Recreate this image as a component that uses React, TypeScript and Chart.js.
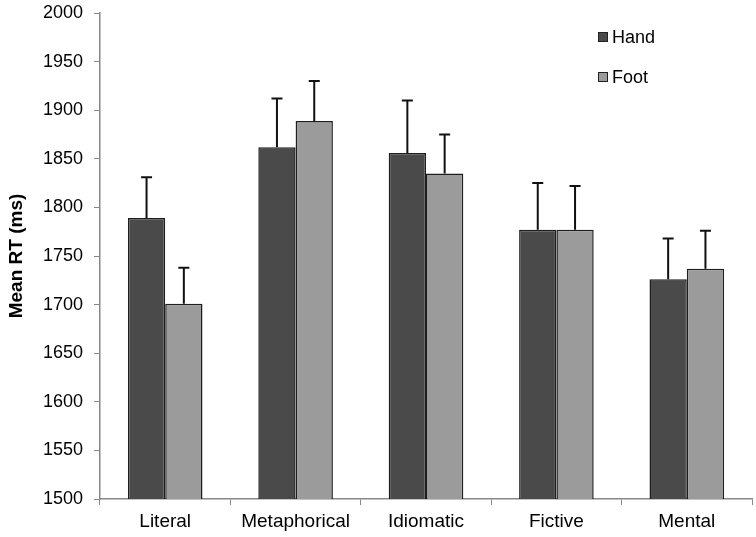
import React, { useEffect, useRef } from "react";
import { Chart, registerables } from "chart.js";

Chart.register(...registerables);

const categories = ["Literal", "Metaphorical", "Idiomatic", "Fictive", "Mental"];
const seriesNames = ["Hand", "Foot"];
const handValues = [1789, 1862, 1856, 1777, 1726];
const footValues = [1701, 1889, 1835, 1777, 1737];
const handErrors = [42, 50, 54, 48, 42];
const footErrors = [37, 41, 40, 45, 39];
const yTicks = [1500, 1550, 1600, 1650, 1700, 1750, 1800, 1850, 1900, 1950, 2000];

const FONT = "'Liberation Sans', Arial, sans-serif";

const errorBarPlugin = {
  id: "errorBars",
  afterDatasetsDraw(chart: any) {
    const ctx = chart.ctx;
    const yScale = chart.scales.y;
    chart.data.datasets.forEach((ds: any, di: number) => {
      const meta = chart.getDatasetMeta(di);
      meta.data.forEach((el: any, i: number) => {
        const v = ds.data[i];
        const e = ds.errors[i];
        const yTop = yScale.getPixelForValue(v + e);
        const yBar = yScale.getPixelForValue(v);
        ctx.save();
        ctx.strokeStyle = "#111";
        ctx.lineWidth = 2;
        ctx.beginPath();
        ctx.moveTo(el.x, yBar);
        ctx.lineTo(el.x, yTop);
        ctx.moveTo(el.x - 5.5, yTop);
        ctx.lineTo(el.x + 5.5, yTop);
        ctx.stroke();
        ctx.restore();
      });
    });
  },
};

const legendPlugin = {
  id: "customLegend",
  afterDraw(chart: any) {
    const ctx = chart.ctx;
    const x = 598;
    const ys = [37, 77];
    ctx.save();
    chart.data.datasets.forEach((ds: any, i: number) => {
      const y = ys[i];
      ctx.fillStyle = ds.backgroundColor;
      ctx.fillRect(x, y - 5, 10, 10);
      ctx.strokeStyle = "#222";
      ctx.lineWidth = 1;
      ctx.strokeRect(x + 0.5, y - 4.5, 9, 9);
      ctx.fillStyle = "#000";
      ctx.font = `18px ${FONT}`;
      ctx.textBaseline = "middle";
      ctx.textAlign = "left";
      ctx.fillText(ds.label, x + 14, y + 1);
    });
    ctx.restore();
  },
};

export default function App() {
  const ref = useRef<HTMLCanvasElement | null>(null);
  useEffect(() => {
    if (!ref.current) return;
    const chart = new Chart(ref.current, {
      type: "bar",
      data: {
        labels: categories,
        datasets: [
          {
            label: seriesNames[0],
            data: handValues,
            errors: handErrors,
            backgroundColor: "#4a4a4a",
            borderColor: "#1e1e1e",
            borderWidth: 1.5,
            categoryPercentage: 0.572,
            barPercentage: 1.0,
          } as any,
          {
            label: seriesNames[1],
            data: footValues,
            errors: footErrors,
            backgroundColor: "#9b9b9b",
            borderColor: "#1e1e1e",
            borderWidth: 1.5,
            categoryPercentage: 0.572,
            barPercentage: 1.0,
          } as any,
        ],
      },
      options: {
        responsive: false,
        animation: false,
        layout: { padding: { top: 13, right: 4, left: 0, bottom: 0 } },
        plugins: {
          legend: { display: false },
          tooltip: { enabled: false },
        },
        scales: {
          x: {
            offset: true,
            grid: {
              offset: true,
              drawOnChartArea: false,
              drawTicks: true,
              tickLength: 6,
              color: "#888",
            },
            border: { color: "#888", width: 1.5 },
            ticks: {
              color: "#000",
              font: { family: FONT, size: 19 },
              padding: 5,
              maxRotation: 0,
            },
            afterFit: (scale: any) => {
              scale.height = 38;
              scale.paddingLeft = 0;
              scale.paddingRight = 0;
            },
          },
          y: {
            min: 1500,
            max: 2000,
            afterBuildTicks: (scale: any) => {
              scale.ticks = yTicks.map((v) => ({ value: v }));
            },
            grid: {
              drawOnChartArea: false,
              drawTicks: true,
              tickLength: 6,
              color: "#888",
            },
            border: { color: "#888", width: 1.5 },
            ticks: {
              color: "#000",
              font: { family: FONT, size: 18 },
              padding: 11,
              callback: (v: any) => String(v),
            },
            title: {
              display: true,
              text: "Mean RT (ms)",
              color: "#000",
              font: { family: FONT, size: 19, weight: "bold" },
              padding: { top: 5, bottom: 0 },
            },
            afterFit: (scale: any) => {
              scale.width = 100;
              scale.paddingTop = 0;
              scale.paddingBottom = 0;
            },
          },
        },
      } as any,
      plugins: [errorBarPlugin, legendPlugin],
    });
    return () => chart.destroy();
  }, []);
  return (
    <div style={{ position: "fixed", left: 0, top: 0, width: 756, height: 537, background: "#fff" }}>
      <canvas ref={ref} width={756} height={537} />
    </div>
  );
}
